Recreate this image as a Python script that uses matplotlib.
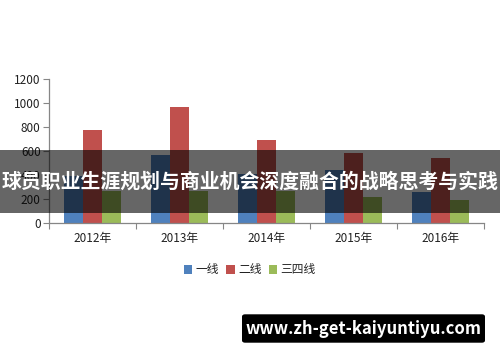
import matplotlib
matplotlib.use("Agg")
import matplotlib.pyplot as plt
import numpy as np
from matplotlib.patches import Rectangle, FancyBboxPatch

plt.rcParams['font.family'] = ['Noto Sans CJK SC', 'DejaVu Sans']

categories = ["2012年", "2013年", "2014年", "2015年", "2016年"]
series_names = ["一线", "二线", "三四线"]
tier1 = [395, 570, 410, 440, 262]
tier2 = [778, 970, 695, 588, 540]
tier3 = [270, 270, 270, 215, 193]
colors = ["#4F81BD", "#C0504D", "#9BBB59"]
y_ticks = [0, 200, 400, 600, 800, 1000, 1200]
title_text = "球员职业生涯规划与商业机会深度融合的战略思考与实践"
watermark = "www.zh-get-kaiyuntiyu.com"

fig = plt.figure(figsize=(5, 3.62), dpi=100)
ax = fig.add_axes([0.098, 0.383, 0.87, 0.399])

x = np.arange(len(categories))
w = 0.218
for i, (vals, name, c) in enumerate(zip([tier1, tier2, tier3], series_names, colors)):
    ax.bar(x + (i - 1) * w, vals, width=w, color=c, label=name, zorder=2)

ax.set_xlim(-0.5, len(categories) - 0.5)
ax.set_ylim(0, 1200)
ax.set_yticks(y_ticks)
ax.set_yticklabels([str(v) for v in y_ticks], fontsize=8.5, color="#222222")
ax.set_xticks(np.arange(-0.5, len(categories), 1.0))
ax.set_xticklabels([])
ax.set_xticks(x, minor=True)
ax.set_xticklabels(categories, minor=True, fontsize=8.5, color="#222222")
ax.tick_params(axis='x', which='minor', length=0, pad=6)
ax.tick_params(axis='x', which='major', length=4, color="#868686", direction='out')
ax.tick_params(axis='y', length=4, color="#868686", direction='out', pad=2)
for s in ['top', 'right']:
    ax.spines[s].set_visible(False)
for s in ['left', 'bottom']:
    ax.spines[s].set_color("#868686")
    ax.spines[s].set_linewidth(0.9)

leg = fig.legend(loc='center', bbox_to_anchor=(0.5, 1 - 270 / 362), ncol=3, frameon=False,
                 fontsize=8.5, handlelength=0.7, handleheight=0.7, handletextpad=0.3,
                 columnspacing=0.6)
for t in leg.get_texts():
    t.set_color("#222222")

# Banner overlay
fig.patches.append(Rectangle((0, 1 - 213 / 362), 1, 63 / 362, transform=fig.transFigure,
                             facecolor="black", alpha=0.6, edgecolor='none', zorder=10))
fig.text(0.5, 1 - 181 / 362, title_text, ha='center', va='center', color='white',
         fontsize=14.3, fontweight='bold', zorder=11)

# Watermark
fig.patches.append(FancyBboxPatch((242 / 500, 1 - 342.7 / 362), 243 / 500, 28.4 / 362,
                                  boxstyle="round,pad=0,rounding_size=0.006",
                                  transform=fig.transFigure, facecolor="black",
                                  edgecolor='none', zorder=10))
fig.text(363.5 / 500, 1 - 328.5 / 362, watermark, ha='center', va='center', color='white',
         fontsize=12, fontweight='bold', zorder=11)

fig.savefig("out.png", dpi=100)
